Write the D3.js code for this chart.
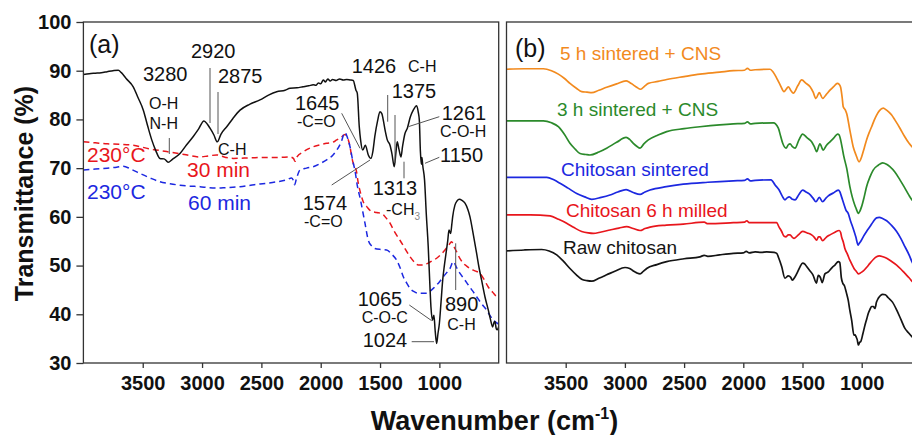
<!DOCTYPE html>
<html><head><meta charset="utf-8">
<script src="https://cdn.jsdelivr.net/npm/d3@7"></script>
<style>
html,body{margin:0;padding:0;background:#fff;overflow:hidden}
svg{display:block;font-family:"Liberation Sans",Arial,Helvetica,sans-serif}
</style></head><body>
<svg id="chart" width="912" height="435"></svg>
<script>
// ---------- data: [wavenumber (cm-1), transmittance (%)] ----------
const xTicks = [3500, 3000, 2500, 2000, 1500, 1000];
const yTicks = [30, 40, 50, 60, 70, 80, 90, 100];

// panel (a): raw chitosan spectrum
const rawA = [[4000,89.2],[3950,89.4],[3900,89.5],[3850,89.6],[3800,89.8],[3750,90.0],[3706,90.1],[3680,89.6],[3640,88.4],[3580,86.7],[3540,84.5],[3495,81.9],[3460,78.8],[3424,75.8],[3390,73.6],[3355,72.0],[3320,71.9],[3300,71.5],[3285,71.2],[3250,71.8],[3186,73.0],[3130,74.8],[3074,76.5],[3030,78.0],[2984,79.7],[2955,79.0],[2933,78.2],[2900,76.8],[2872,75.4],[2840,77.0],[2792,78.5],[2740,80.2],[2680,81.9],[2600,83.1],[2512,84.0],[2440,85.0],[2371,85.7],[2300,86.0],[2259,86.4],[2200,86.5],[2150,86.7],[2100,86.9],[2063,87.1],[2040,87.0],[2020,87.5],[2000,87.3],[1978,88.1],[1960,87.7],[1940,88.3],[1920,87.9],[1900,88.2],[1870,88.0],[1840,88.3],[1810,88.1],[1781,88.2],[1753,88.1],[1726,88.0],[1703,86.0],[1692,85.4],[1675,78.5],[1664,75.8],[1646,73.7],[1624,74.7],[1599,72.7],[1577,72.0],[1560,73.5],[1544,76.5],[1520,79.8],[1501,81.6],[1485,81.2],[1473,79.9],[1455,77.5],[1439,75.8],[1416,74.7],[1400,73.0],[1380,70.3],[1365,73.5],[1355,75.4],[1340,73.8],[1324,72.3],[1310,74.5],[1290,77.1],[1270,78.2],[1245,80.5],[1220,81.9],[1191,82.8],[1178,81.5],[1169,79.9],[1160,73.5],[1152,70.8],[1147,72.2],[1140,70.5],[1125,67.6],[1110,60.5],[1094,53.9],[1080,46.0],[1071,41.5],[1058,38.8],[1046,39.8],[1035,36.5],[1023,34.0],[1012,36.0],[1000,38.1],[986,42.5],[972,47.0],[958,50.0],[944,52.5],[930,55.0],[919,57.3],[905,56.6],[895,58.5],[888,60.0],[869,62.4],[850,63.3],[832,63.6],[810,63.4],[784,62.8],[760,61.5],[742,60.0],[715,56.5],[686,52.5],[665,49.5],[644,47.0],[615,43.5],[588,40.9],[570,39.0],[551,37.4],[540,38.3],[532,38.5],[520,37.0],[512,36.8],[500,37.5]];

// panel (a): 230 °C, 30 min
const heated30 = [[4000,75.4],[3900,75.2],[3800,75.0],[3700,74.9],[3580,74.7],[3450,74.0],[3298,73.4],[3150,72.8],[3017,72.3],[2950,72.5],[2877,72.7],[2800,72.2],[2737,72.0],[2600,72.1],[2455,72.2],[2350,72.2],[2259,72.3],[2230,72.0],[2217,71.4],[2200,72.3],[2150,73.3],[2063,74.4],[2000,74.8],[1950,75.1],[1900,75.3],[1865,75.8],[1830,76.3],[1795,76.9],[1770,76.0],[1753,74.4],[1740,72.5],[1726,71.0],[1700,69.5],[1684,67.0],[1660,64.5],[1640,63.0],[1612,62.1],[1571,61.1],[1530,60.9],[1486,60.7],[1450,59.8],[1416,58.7],[1380,57.0],[1332,55.2],[1290,53.5],[1247,51.8],[1210,50.7],[1178,50.1],[1140,50.1],[1094,50.5],[1060,51.0],[1023,51.5],[990,52.2],[953,53.2],[920,54.2],[897,54.9],[875,53.8],[854,52.8],[830,51.6],[799,50.5],[770,49.9],[742,49.4],[700,48.9],[658,48.4],[620,47.0],[588,45.6],[550,44.5],[518,43.6],[500,43.3]];

// panel (a): 230 °C, 60 min
const heated60 = [[4000,69.6],[3900,69.8],[3800,70.0],[3720,70.2],[3664,70.4],[3600,69.8],[3523,68.9],[3440,68.0],[3355,67.2],[3270,66.8],[3186,66.5],[3100,66.3],[3017,66.2],[2950,66.0],[2877,65.9],[2800,66.0],[2680,66.2],[2560,66.6],[2455,66.9],[2370,67.2],[2287,67.6],[2245,68.0],[2231,67.5],[2220,66.6],[2205,67.8],[2175,69.6],[2120,70.0],[2063,70.3],[2000,71.0],[1950,71.7],[1900,72.6],[1865,73.7],[1830,75.2],[1795,77.3],[1775,76.3],[1753,74.4],[1730,71.5],[1712,69.6],[1690,66.2],[1665,63.5],[1645,61.0],[1627,58.7],[1599,55.2],[1570,54.0],[1544,53.5],[1490,53.3],[1445,53.2],[1400,52.3],[1360,51.1],[1330,49.5],[1304,47.7],[1275,46.4],[1247,45.3],[1210,44.6],[1178,44.3],[1140,44.3],[1107,44.3],[1065,45.0],[1023,46.0],[995,46.8],[967,47.7],[940,48.5],[911,49.4],[883,50.8],[855,49.6],[826,48.4],[790,47.2],[756,46.0],[720,44.8],[686,43.6],[645,42.2],[602,40.9],[570,39.6],[546,38.8],[520,38.3],[500,38.0]];

// panel (b): raw chitosan
const rawB = [[4000,53.0],[3850,53.2],[3703,53.3],[3640,53.0],[3576,52.2],[3520,50.9],[3464,49.4],[3410,48.1],[3365,47.2],[3320,46.9],[3280,46.8],[3220,47.4],[3154,48.1],[3080,48.9],[2999,49.6],[2960,49.4],[2929,48.9],[2900,48.5],[2872,48.3],[2845,48.8],[2816,49.4],[2730,50.2],[2647,50.8],[2500,51.4],[2366,51.8],[2330,52.1],[2300,51.9],[2200,52.2],[2084,52.5],[2000,52.6],[1975,52.9],[1950,52.6],[1900,52.8],[1850,52.7],[1802,52.8],[1740,52.7],[1718,52.5],[1700,51.5],[1676,49.8],[1648,47.4],[1620,47.9],[1600,47.6],[1586,47.0],[1565,47.6],[1541,48.7],[1520,49.8],[1499,50.5],[1480,50.3],[1465,49.8],[1440,49.0],[1412,48.1],[1382,46.4],[1367,48.0],[1350,47.6],[1333,46.5],[1311,48.3],[1282,48.7],[1250,49.6],[1226,50.1],[1198,50.8],[1185,50.6],[1172,47.5],[1160,46.4],[1145,45.8],[1130,44.5],[1114,42.9],[1100,40.8],[1085,38.8],[1065,35.7],[1055,35.8],[1048,35.4],[1038,34.8],[1028,33.7],[1018,34.2],[1008,34.4],[990,36.0],[972,37.8],[958,39.0],[944,40.2],[930,41.0],[916,41.6],[902,41.6],[888,41.2],[875,42.5],[860,43.3],[840,43.9],[823,44.1],[800,44.0],[776,43.4],[740,42.5],[705,40.9],[670,39.0],[635,37.1],[605,36.2],[576,35.4],[560,35.0]];

// panel (b): chitosan 6 h milled
const milledB = [[4000,60.4],[3800,60.4],[3632,60.2],[3560,59.5],[3492,58.7],[3430,57.8],[3365,57.0],[3310,56.7],[3267,56.6],[3200,56.9],[3126,57.3],[3050,57.7],[2985,58.0],[2930,57.6],[2872,57.2],[2830,57.6],[2788,57.9],[2650,58.3],[2507,58.5],[2330,58.9],[2300,58.6],[2084,58.8],[1990,58.9],[1970,59.2],[1950,58.8],[1900,58.8],[1718,58.8],[1700,58.0],[1676,57.0],[1655,56.0],[1639,55.9],[1620,56.3],[1605,56.3],[1585,55.8],[1571,55.6],[1535,56.3],[1499,57.0],[1460,56.7],[1423,56.3],[1400,55.8],[1381,55.2],[1365,55.9],[1353,55.9],[1330,55.1],[1300,55.8],[1268,56.3],[1230,56.8],[1190,57.2],[1178,56.8],[1170,55.9],[1155,54.8],[1142,53.5],[1120,52.3],[1100,51.1],[1080,50.1],[1065,49.4],[1045,48.8],[1028,48.3],[1010,48.5],[986,48.9],[960,49.6],[929,50.5],[900,51.3],[875,51.8],[851,52.0],[820,51.8],[789,51.5],[750,50.9],[705,50.1],[670,49.3],[635,48.4],[600,47.5],[576,46.8],[560,46.4]];

// panel (b): chitosan sintered
const sinteredB = [[4000,68.1],[3800,68.1],[3660,68.1],[3600,67.6],[3548,66.9],[3480,65.9],[3407,64.8],[3340,64.1],[3280,63.6],[3200,64.0],[3126,64.5],[3060,65.1],[2990,65.6],[2930,65.0],[2872,64.6],[2830,65.1],[2788,65.5],[2650,66.2],[2507,66.7],[2300,67.1],[2084,67.4],[1990,67.5],[1965,67.8],[1940,67.4],[1900,67.5],[1766,67.6],[1730,66.5],[1700,65.6],[1670,64.2],[1648,63.5],[1630,63.9],[1611,64.1],[1585,63.6],[1563,63.5],[1530,64.6],[1499,65.5],[1470,65.1],[1443,64.7],[1410,63.8],[1387,63.1],[1358,64.0],[1330,63.1],[1300,63.9],[1282,64.3],[1240,64.9],[1198,65.5],[1185,65.2],[1170,64.1],[1150,62.6],[1133,61.4],[1114,60.7],[1095,59.2],[1072,57.6],[1050,55.9],[1030,54.2],[1020,54.6],[1010,54.9],[985,56.0],[959,57.0],[930,58.0],[903,59.0],[875,59.8],[852,59.9],[820,59.6],[789,59.2],[750,58.3],[705,57.0],[670,55.6],[635,53.9],[600,52.2],[576,50.8],[560,50.0]];

// panel (b): 3 h sintered + CNS
const cns3hB = [[4000,79.7],[3850,79.7],[3689,79.7],[3620,79.3],[3562,78.5],[3510,76.9],[3464,75.1],[3420,73.9],[3379,73.0],[3330,72.8],[3295,72.7],[3220,73.3],[3154,74.1],[3070,75.3],[2990,76.3],[2960,75.9],[2929,75.1],[2900,74.5],[2872,74.1],[2840,75.0],[2802,75.8],[2720,76.8],[2647,77.5],[2500,78.1],[2366,78.5],[2200,78.9],[2084,79.1],[1990,79.2],[1965,79.5],[1940,79.1],[1900,79.2],[1746,79.3],[1704,78.2],[1685,76.6],[1667,75.1],[1639,74.1],[1620,74.8],[1605,75.0],[1585,74.4],[1563,74.1],[1530,75.8],[1499,77.0],[1460,76.2],[1423,75.4],[1400,74.4],[1381,73.4],[1353,75.0],[1325,73.7],[1300,74.6],[1268,75.4],[1235,76.2],[1204,77.0],[1190,76.8],[1178,75.8],[1165,74.2],[1150,72.3],[1127,70.0],[1100,66.2],[1080,64.1],[1058,62.4],[1045,61.6],[1030,60.7],[1015,61.2],[1001,62.1],[980,64.0],[959,66.2],[930,68.2],[903,69.6],[860,70.6],[823,71.1],[790,70.8],[762,70.3],[720,69.2],[677,67.6],[640,66.1],[600,64.4],[576,63.5],[560,63.0]];

// panel (b): 5 h sintered + CNS
const cns5hB = [[4000,90.3],[3850,90.4],[3689,90.4],[3620,90.0],[3562,89.3],[3510,88.4],[3464,87.4],[3410,86.4],[3365,85.7],[3320,85.6],[3280,85.5],[3220,86.0],[3154,86.6],[3070,87.3],[2990,87.9],[2960,87.6],[2929,87.1],[2900,86.6],[2866,86.2],[2835,86.8],[2802,87.4],[2720,87.8],[2647,88.2],[2500,88.8],[2366,89.3],[2200,89.7],[2084,90.0],[1990,90.1],[1965,90.5],[1940,90.1],[1900,90.2],[1774,90.3],[1750,89.8],[1732,89.1],[1710,88.1],[1689,87.1],[1656,85.7],[1638,86.2],[1620,86.7],[1600,86.0],[1577,85.4],[1540,86.9],[1507,88.1],[1470,87.4],[1436,86.7],[1410,85.6],[1387,84.3],[1358,85.5],[1330,84.3],[1300,85.1],[1268,86.0],[1235,86.8],[1206,87.4],[1190,87.2],[1178,86.6],[1165,84.5],[1156,82.6],[1140,82.0],[1127,81.2],[1100,77.8],[1072,74.4],[1048,72.7],[1022,71.3],[1001,72.3],[980,74.0],[959,75.8],[937,77.3],[916,78.5],[895,79.8],[874,80.9],[850,81.8],[818,82.3],[790,81.9],[770,81.5],[747,80.9],[720,79.9],[677,78.2],[640,76.6],[600,75.1],[576,74.4],[560,74.0]];

// curve labels
const seriesB = [
  { name: "5 h sintered + CNS",  values: cns5hB,   color: "#f28a1e" },
  { name: "3 h sintered + CNS",  values: cns3hB,   color: "#2b8a2b" },
  { name: "Chitosan sintered",   values: sinteredB, color: "#1c28e0" },
  { name: "Chitosan 6 h milled", values: milledB,  color: "#e8161c" },
  { name: "Raw chitosan",        values: rawB,     color: "#141414" }
];

// ---------- layout ----------
const svg = d3.select("#chart");
const plotTop = 22, plotBottom = 363;
const xA = d3.scaleLinear().domain([4000, 500]).range([83.4, 498.7]);
const xB = d3.scaleLinear().domain([4000, 500]).range([506.5, 920.9]);
const y  = d3.scaleLinear().domain([30, 100]).range([plotBottom, plotTop]);

const defs = svg.append("defs");
defs.append("clipPath").attr("id", "clipA").append("rect")
  .attr("x", xA.range()[0]).attr("y", plotTop).attr("width", xA.range()[1] - xA.range()[0]).attr("height", plotBottom - plotTop);
defs.append("clipPath").attr("id", "clipB").append("rect")
  .attr("x", xB.range()[0]).attr("y", plotTop).attr("width", xB.range()[1] - xB.range()[0]).attr("height", plotBottom - plotTop);

const lineOf = xs => d3.line().x(d => xs(d[0])).y(d => y(d[1])).curve(d3.curveMonotoneX);

// axes
function styleAxis(g) {
  g.select(".domain").remove();
  g.selectAll(".tick line").attr("stroke", "#333").attr("stroke-width", 1.3);
  g.selectAll(".tick text").attr("fill", "#111").attr("font-size", 20).attr("font-weight", "bold")
    .attr("font-family", '"Liberation Sans", Arial, sans-serif');
}
svg.append("g").attr("transform", `translate(0,${plotBottom})`)
  .call(d3.axisBottom(xA).tickValues(xTicks).tickSize(5).tickPadding(8).tickFormat(d3.format("d")))
  .call(styleAxis);
svg.append("g").attr("transform", `translate(0,${plotBottom})`)
  .call(d3.axisBottom(xB).tickValues(xTicks).tickSize(5).tickPadding(8).tickFormat(d3.format("d")))
  .call(styleAxis);
svg.append("g").attr("transform", `translate(${xA.range()[0]},0)`)
  .call(d3.axisLeft(y).tickValues(yTicks).tickSize(7).tickPadding(5))
  .call(styleAxis);

// panel (a) curves
const gA = svg.append("g").attr("clip-path", "url(#clipA)");
gA.append("path").datum(heated30).attr("d", lineOf(xA)).attr("fill", "none")
  .attr("stroke", "#e8161c").attr("stroke-width", 1.5).attr("stroke-dasharray", "6,4");
gA.append("path").datum(heated60).attr("d", lineOf(xA)).attr("fill", "none")
  .attr("stroke", "#1c28e0").attr("stroke-width", 1.5).attr("stroke-dasharray", "6,4");
gA.append("path").datum(rawA).attr("d", lineOf(xA)).attr("fill", "none")
  .attr("stroke", "#111").attr("stroke-width", 1.5);

// panel (b) curves
const gB = svg.append("g").attr("clip-path", "url(#clipB)");
gB.selectAll("path.spec").data(seriesB).join("path").attr("class", "spec")
  .attr("d", d => lineOf(xB)(d.values)).attr("fill", "none")
  .attr("stroke", d => d.color).attr("stroke-width", 1.7);

// frames
svg.append("rect").attr("x", xA.range()[0]).attr("y", plotTop)
  .attr("width", xA.range()[1] - xA.range()[0]).attr("height", plotBottom - plotTop)
  .attr("fill", "none").attr("stroke", "#333").attr("stroke-width", 1.3);
svg.append("rect").attr("x", xB.range()[0]).attr("y", plotTop)
  .attr("width", xB.range()[1] - xB.range()[0]).attr("height", plotBottom - plotTop)
  .attr("fill", "none").attr("stroke", "#333").attr("stroke-width", 1.3);

// ---------- annotations ----------
const ann = svg.append("g");
function txt(x, yy, s, size, color, weight) {
  return ann.append("text").attr("x", x).attr("y", yy).text(s)
    .attr("font-size", size).attr("fill", color || "#111").attr("font-weight", weight || "normal");
}
function lead(x1, y1, x2, y2) {
  ann.append("line").attr("x1", x1).attr("y1", y1).attr("x2", x2).attr("y2", y2)
    .attr("stroke", "#555").attr("stroke-width", 1);
}

txt(89, 53, "(a)", 25);
txt(143, 81, "3280", 20);
txt(149, 109, "O-H", 16);
txt(149.5, 128.5, "N-H", 16);
lead(169.3, 138, 169.3, 154);
txt(191, 58, "2920", 20);
lead(210, 68, 210, 123);
txt(218, 83, "2875", 20);
lead(218, 92, 218, 134);
txt(218, 155, "C-H", 16);

txt(87, 162, "230°C", 21, "#e8161c");
txt(187, 177, "30 min", 21, "#e8161c");
txt(87, 198.5, "230°C", 21, "#1c28e0");
txt(188, 210, "60 min", 21, "#1c28e0");

txt(351.7, 73, "1426", 20);
txt(408, 72, "C-H", 16);
lead(387.7, 95, 387.7, 121.7);
txt(391.7, 98, "1375", 20);
lead(395, 115, 395, 163);
txt(295, 110, "1645", 20);
txt(297, 126.7, "-C=O", 16);
lead(341.7, 113.3, 360, 148.3);
txt(441.7, 120, "1261", 20);
txt(440, 136.7, "C-O-H", 16);
lead(439.3, 116.7, 408.3, 126.7);
txt(440, 161.7, "1150", 20);
lead(439.3, 157.3, 425, 163.3);
txt(302.7, 210, "1574", 20);
txt(304, 226.7, "-C=O", 16);
lead(331.7, 185, 370, 160);
txt(372.7, 195, "1313", 20);
const ch3 = txt(386, 215, "-CH", 16);
ch3.append("tspan").text("3").attr("font-size", 10).attr("fill", "#888").attr("dy", 5);
lead(404, 161.7, 404, 178.3);
txt(357.7, 305.5, "1065", 20);
txt(361.7, 323, "C-O-C", 16);
lead(409.3, 305, 431.7, 320.7);
txt(362.7, 346.7, "1024", 20);
lead(411.7, 341.7, 434, 341.7);
txt(445, 311, "890", 20);
txt(447.3, 329.5, "C-H", 16);
lead(455.7, 290, 455.7, 243.3);

// panel (b) labels
txt(515, 56.7, "(b)", 25);
const labelPos = [[560, 60], [557, 116], [561, 175.7], [566, 216.7], [563, 254]];
seriesB.forEach((s, i) => txt(labelPos[i][0], labelPos[i][1], s.name, 19, s.color));

// axis titles
svg.append("text").attr("transform", "translate(33,193.5) rotate(-90)")
  .attr("text-anchor", "middle").attr("font-size", 25).attr("font-weight", "bold").attr("fill", "#111")
  .text("Transmittance (%)");
const xt = svg.append("text").attr("x", 494.5).attr("y", 430).attr("text-anchor", "middle")
  .attr("font-size", 27).attr("font-weight", "bold").attr("fill", "#111");
xt.append("tspan").text("Wavenumber (cm");
xt.append("tspan").text("-1").attr("font-size", 16).attr("dy", -11);
xt.append("tspan").text(")").attr("dy", 11);
</script>
</body></html>
